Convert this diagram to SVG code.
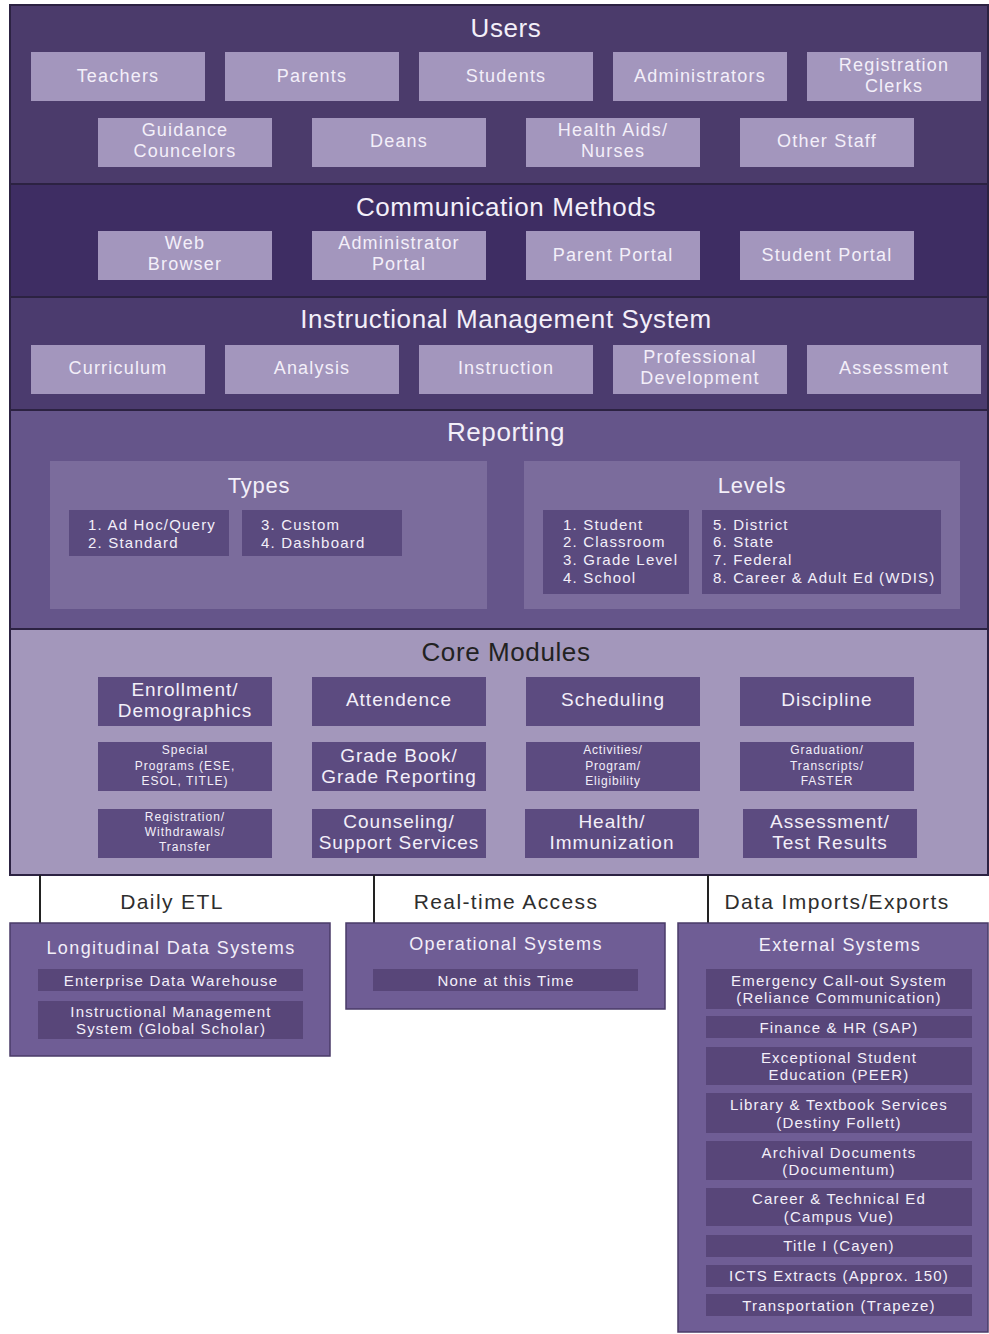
<svg xmlns="http://www.w3.org/2000/svg" width="989" height="1334" viewBox="0 0 989 1334">
  <style>
    text { font-family: "Liberation Sans", Arial, sans-serif; text-anchor: middle; dominant-baseline: central; fill: #f3eff9; }
    .band { stroke: #2c2242; stroke-width: 2; }
    .title { font-size: 26px; letter-spacing: 0.6px; }
    .sub { font-size: 22px; letter-spacing: 0.8px; }
    .lbox { fill: #a396bd; }
    .lbl { font-size: 18px; letter-spacing: 1.2px; }
    .cont { fill: #7b6c9c; }
    .dk { fill: #5a4a7e; }
    .mod { fill: #5c4b80; }
    .big { font-size: 19px; letter-spacing: 1px; }
    .sm { font-size: 12px; letter-spacing: 1px; }
    .xs { font-size: 12px; letter-spacing: 0.8px; }
    .li { font-size: 15px; letter-spacing: 1.2px; text-anchor: start; }
    .flow { font-size: 21px; letter-spacing: 1.4px; fill: #2e2e2e; }
    .sys { fill: #6f5d95; stroke: #4a3b68; stroke-width: 1.5; }
    .sysin { fill: #584679; }
    .st { font-size: 18px; letter-spacing: 1.4px; }
    .it { font-size: 15px; letter-spacing: 1.2px; }
  </style>

  <rect x="0" y="0" width="989" height="1334" fill="#ffffff"/>

  <!-- Users layer -->
  <g id="users">
    <rect class="band" x="10" y="5" width="978" height="179" fill="#4b3b6b"/>
    <text class="title" x="506" y="28">Users</text>
    <g id="teachers"><rect class="lbox" x="31" y="52" width="174" height="49"/><text class="lbl" x="118" y="76">Teachers</text></g>
    <g id="parents"><rect class="lbox" x="225" y="52" width="174" height="49"/><text class="lbl" x="312" y="76">Parents</text></g>
    <g id="students"><rect class="lbox" x="419" y="52" width="174" height="49"/><text class="lbl" x="506" y="76">Students</text></g>
    <g id="administrators"><rect class="lbox" x="613" y="52" width="174" height="49"/><text class="lbl" x="700" y="76">Administrators</text></g>
    <g id="registration-clerks"><rect class="lbox" x="807" y="52" width="174" height="49"/><text class="lbl" x="894" y="65">Registration</text><text class="lbl" x="894" y="86">Clerks</text></g>
    <g id="guidance"><rect class="lbox" x="98" y="118" width="174" height="49"/><text class="lbl" x="185" y="130">Guidance</text><text class="lbl" x="185" y="151">Councelors</text></g>
    <g id="deans"><rect class="lbox" x="312" y="118" width="174" height="49"/><text class="lbl" x="399" y="141">Deans</text></g>
    <g id="health-aids"><rect class="lbox" x="526" y="118" width="174" height="49"/><text class="lbl" x="613" y="130">Health Aids/</text><text class="lbl" x="613" y="151">Nurses</text></g>
    <g id="other-staff"><rect class="lbox" x="740" y="118" width="174" height="49"/><text class="lbl" x="827" y="141">Other Staff</text></g>
  </g>

  <!-- Communication methods layer -->
  <g id="communication">
    <rect class="band" x="10" y="184" width="978" height="113" fill="#3e2d63"/>
    <text class="title" x="506" y="207">Communication Methods</text>
    <g id="web-browser"><rect class="lbox" x="98" y="231" width="174" height="49"/><text class="lbl" x="185" y="243">Web</text><text class="lbl" x="185" y="264">Browser</text></g>
    <g id="admin-portal"><rect class="lbox" x="312" y="231" width="174" height="49"/><text class="lbl" x="399" y="243">Administrator</text><text class="lbl" x="399" y="264">Portal</text></g>
    <g id="parent-portal"><rect class="lbox" x="526" y="231" width="174" height="49"/><text class="lbl" x="613" y="255">Parent Portal</text></g>
    <g id="student-portal"><rect class="lbox" x="740" y="231" width="174" height="49"/><text class="lbl" x="827" y="255">Student Portal</text></g>
  </g>

  <!-- Instructional management layer -->
  <g id="ims">
    <rect class="band" x="10" y="297" width="978" height="113" fill="#4b3b6e"/>
    <text class="title" x="506" y="319">Instructional Management System</text>
    <g id="curriculum"><rect class="lbox" x="31" y="345" width="174" height="49"/><text class="lbl" x="118" y="368">Curriculum</text></g>
    <g id="analysis"><rect class="lbox" x="225" y="345" width="174" height="49"/><text class="lbl" x="312" y="368">Analysis</text></g>
    <g id="instruction"><rect class="lbox" x="419" y="345" width="174" height="49"/><text class="lbl" x="506" y="368">Instruction</text></g>
    <g id="prof-dev"><rect class="lbox" x="613" y="345" width="174" height="49"/><text class="lbl" x="700" y="357">Professional</text><text class="lbl" x="700" y="378">Development</text></g>
    <g id="assessment"><rect class="lbox" x="807" y="345" width="174" height="49"/><text class="lbl" x="894" y="368">Assessment</text></g>
  </g>

  <!-- Reporting layer -->
  <g id="reporting">
    <rect class="band" x="10" y="410" width="978" height="219" fill="#65558a"/>
    <text class="title" x="506" y="432">Reporting</text>
    <g id="types">
      <rect class="cont" x="50" y="461" width="437" height="148"/>
      <text class="sub" x="259" y="485">Types</text>
      <rect class="dk" x="69" y="510" width="160" height="46"/>
      <text class="li" x="88" y="524">1. Ad Hoc/Query</text>
      <text class="li" x="88" y="542">2. Standard</text>
      <rect class="dk" x="242" y="510" width="160" height="46"/>
      <text class="li" x="261" y="524">3. Custom</text>
      <text class="li" x="261" y="542">4. Dashboard</text>
    </g>
    <g id="levels">
      <rect class="cont" x="524" y="461" width="436" height="148"/>
      <text class="sub" x="752" y="485">Levels</text>
      <rect class="dk" x="543" y="510" width="146" height="84"/>
      <text class="li" x="563" y="524">1. Student</text>
      <text class="li" x="563" y="541">2. Classroom</text>
      <text class="li" x="563" y="559">3. Grade Level</text>
      <text class="li" x="563" y="577">4. School</text>
      <rect class="dk" x="702" y="510" width="239" height="84"/>
      <text class="li" x="713" y="524">5. District</text>
      <text class="li" x="713" y="541">6. State</text>
      <text class="li" x="713" y="559">7. Federal</text>
      <text class="li" x="713" y="577">8. Career &amp; Adult Ed (WDIS)</text>
    </g>
  </g>

  <!-- Core modules layer -->
  <g id="core">
    <rect class="band" x="10" y="629" width="978" height="246" fill="#a397bb"/>
    <text class="title" x="506" y="652" style="fill:#222222">Core Modules</text>
    <g id="enrollment"><rect class="mod" x="98" y="677" width="174" height="49"/><text class="big" x="185" y="689">Enrollment/</text><text class="big" x="185" y="710">Demographics</text></g>
    <g id="attendence"><rect class="mod" x="312" y="677" width="174" height="49"/><text class="big" x="399" y="699">Attendence</text></g>
    <g id="scheduling"><rect class="mod" x="526" y="677" width="174" height="49"/><text class="big" x="613" y="699">Scheduling</text></g>
    <g id="discipline"><rect class="mod" x="740" y="677" width="174" height="49"/><text class="big" x="827" y="699">Discipline</text></g>
    <g id="special-programs"><rect class="mod" x="98" y="742" width="174" height="49"/><text class="sm" x="185" y="750">Special</text><text class="sm" x="185" y="766">Programs (ESE,</text><text class="sm" x="185" y="781">ESOL, TITLE)</text></g>
    <g id="grade-book"><rect class="mod" x="312" y="742" width="174" height="49"/><text class="big" x="399" y="755">Grade Book/</text><text class="big" x="399" y="776">Grade Reporting</text></g>
    <g id="activities"><rect class="mod" x="526" y="742" width="174" height="49"/><text class="xs" x="613" y="750">Activities/</text><text class="xs" x="613" y="766">Program/</text><text class="xs" x="613" y="781">Eligibility</text></g>
    <g id="graduation"><rect class="mod" x="740" y="742" width="174" height="49"/><text class="sm" x="827" y="750">Graduation/</text><text class="sm" x="827" y="766">Transcripts/</text><text class="sm" x="827" y="781">FASTER</text></g>
    <g id="registration"><rect class="mod" x="98" y="809" width="174" height="49"/><text class="sm" x="185" y="817">Registration/</text><text class="sm" x="185" y="832">Withdrawals/</text><text class="sm" x="185" y="847">Transfer</text></g>
    <g id="counseling"><rect class="mod" x="312" y="809" width="174" height="49"/><text class="big" x="399" y="821">Counseling/</text><text class="big" x="399" y="842">Support Services</text></g>
    <g id="health"><rect class="mod" x="525" y="809" width="174" height="49"/><text class="big" x="612" y="821">Health/</text><text class="big" x="612" y="842">Immunization</text></g>
    <g id="assessment-results"><rect class="mod" x="743" y="809" width="174" height="49"/><text class="big" x="830" y="821">Assessment/</text><text class="big" x="830" y="842">Test Results</text></g>
  </g>

  <!-- Data flow connectors -->
  <g id="connectors" stroke="#222222" stroke-width="2" fill="none">
    <line x1="40" y1="875" x2="40" y2="923"/>
    <line x1="374" y1="875" x2="374" y2="923"/>
    <line x1="708" y1="875" x2="708" y2="923"/>
  </g>
  <g id="flow-labels">
    <text class="flow" x="172" y="901">Daily ETL</text>
    <text class="flow" x="506" y="901">Real-time Access</text>
    <text class="flow" x="837" y="901">Data Imports/Exports</text>
  </g>

  <!-- Downstream systems -->
  <g id="longitudinal">
    <rect class="sys" x="10" y="923" width="320" height="133"/>
    <text class="st" x="171" y="948">Longitudinal Data Systems</text>
    <rect class="sysin" x="38" y="969" width="265" height="22"/>
    <text class="it" x="171" y="980">Enterprise Data Warehouse</text>
    <rect class="sysin" x="38" y="1001" width="265" height="38"/>
    <text class="it" x="171" y="1011">Instructional Management</text>
    <text class="it" x="171" y="1028">System (Global Scholar)</text>
  </g>

  <g id="operational">
    <rect class="sys" x="346" y="923" width="319" height="86"/>
    <text class="st" x="506" y="944">Operational Systems</text>
    <rect class="sysin" x="373" y="969" width="265" height="22"/>
    <text class="it" x="506" y="980">None at this Time</text>
  </g>

  <g id="external">
    <rect class="sys" x="678" y="923" width="310" height="409"/>
    <text class="st" x="840" y="945">External Systems</text>
    <rect class="sysin" x="706" y="969" width="266" height="40"/>
    <text class="it" x="839" y="980">Emergency Call-out System</text>
    <text class="it" x="839" y="997">(Reliance Communication)</text>
    <rect class="sysin" x="706" y="1016" width="266" height="22"/>
    <text class="it" x="839" y="1027">Finance &amp; HR (SAP)</text>
    <rect class="sysin" x="706" y="1047" width="266" height="38"/>
    <text class="it" x="839" y="1057">Exceptional Student</text>
    <text class="it" x="839" y="1074">Education (PEER)</text>
    <rect class="sysin" x="706" y="1093" width="266" height="40"/>
    <text class="it" x="839" y="1104">Library &amp; Textbook Services</text>
    <text class="it" x="839" y="1122">(Destiny Follett)</text>
    <rect class="sysin" x="706" y="1141" width="266" height="39"/>
    <text class="it" x="839" y="1152">Archival Documents</text>
    <text class="it" x="839" y="1169">(Documentum)</text>
    <rect class="sysin" x="706" y="1188" width="266" height="38"/>
    <text class="it" x="839" y="1198">Career &amp; Technical Ed</text>
    <text class="it" x="839" y="1216">(Campus Vue)</text>
    <rect class="sysin" x="706" y="1235" width="266" height="22"/>
    <text class="it" x="839" y="1245">Title I (Cayen)</text>
    <rect class="sysin" x="706" y="1265" width="266" height="22"/>
    <text class="it" x="839" y="1275">ICTS Extracts (Approx. 150)</text>
    <rect class="sysin" x="706" y="1294" width="266" height="22"/>
    <text class="it" x="839" y="1305">Transportation (Trapeze)</text>
  </g>
</svg>
